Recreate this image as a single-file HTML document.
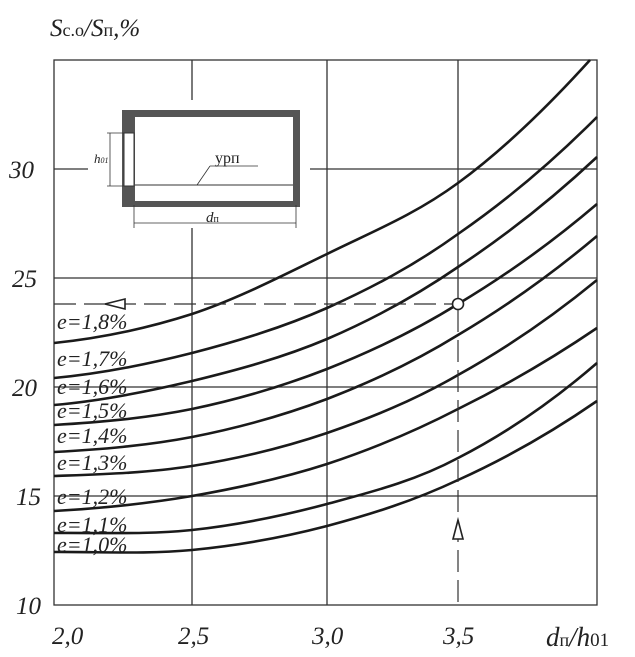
<!DOCTYPE html>
<html><head><meta charset="utf-8"><style>
html,body{margin:0;padding:0;background:#fff;}
svg{display:block;}
text{font-family:"Liberation Serif","DejaVu Serif",serif;font-style:italic;fill:#222;}
</style></head><body>
<svg width="635" height="657" viewBox="0 0 635 657" xmlns="http://www.w3.org/2000/svg">
<rect width="635" height="657" fill="#fff"/>
<g stroke="#333" stroke-width="1.3" fill="none">
<rect x="54" y="60" width="543" height="545"/>
<line x1="192" y1="60" x2="192" y2="605"/>
<line x1="327" y1="60" x2="327" y2="605"/>
<line x1="458" y1="60" x2="458" y2="304"/>
<line x1="54" y1="169" x2="597" y2="169"/>
<line x1="54" y1="278" x2="597" y2="278"/>
<line x1="54" y1="387" x2="597" y2="387"/>
<line x1="54" y1="496" x2="597" y2="496"/>
</g>
<rect x="88" y="100" width="222" height="128" fill="#fff"/>
<g>
<rect x="122" y="110" width="178" height="97" fill="#555"/>
<rect x="135" y="117" width="158" height="84" fill="#fff"/>
<rect x="124" y="133" width="10" height="53" fill="#fff" stroke="#333" stroke-width="1"/>
<line x1="135" y1="185" x2="293" y2="185" stroke="#333" stroke-width="1"/>
<line x1="107" y1="133" x2="124" y2="133" stroke="#333" stroke-width="0.8"/>
<line x1="107" y1="186" x2="124" y2="186" stroke="#333" stroke-width="0.8"/>
<line x1="110" y1="133" x2="110" y2="186" stroke="#333" stroke-width="0.8"/>
<line x1="134" y1="205" x2="134" y2="228" stroke="#333" stroke-width="0.8"/>
<line x1="296" y1="205" x2="296" y2="228" stroke="#333" stroke-width="0.8"/>
<line x1="134" y1="223" x2="296" y2="223" stroke="#333" stroke-width="0.8"/>
<line x1="197" y1="185" x2="210" y2="166" stroke="#333" stroke-width="0.8"/>
<line x1="210" y1="166" x2="258" y2="166" stroke="#333" stroke-width="0.8"/>
<text x="215" y="163" font-size="16" style="font-style:normal">урп</text>
<text x="94" y="163" font-size="13">h<tspan font-size="8">01</tspan></text>
<text x="206" y="222" font-size="15">d<tspan font-size="10" style="font-style:normal">п</tspan></text>
</g>
<g stroke="#1a1a1a" stroke-width="2.6" fill="none">
<path d="M54,343 C100,338.2 146,328.8 192,314 C237,299.2 282,275.8 327,254 C371,232.2 414,215.3 458,183 C502,150.7 545,109.7 590,60"/>
<path d="M54,378 C100,373.8 146,364.7 192,353 C237,341.3 282,327.8 327,308 C371,288.2 414,265.8 458,234 C504,202.2 551,163.2 597,117"/>
<path d="M54,405 C100,401 146,392 192,381 C237,370 282,358 327,339 C371,320 414,297.3 458,267 C504,236.7 551,200 597,157"/>
<path d="M54,425 C100,422.3 146,418.3 192,409 C237,399.7 282,386.5 327,369 C371,351.5 414,331.5 458,304 C504,276.5 551,243.2 597,204"/>
<path d="M54,452 C100,449.5 146,445.8 192,437 C237,428.2 282,416 327,399 C371,382 414,362.2 458,335 C504,307.8 551,274.8 597,236"/>
<path d="M54,476 C100,474.3 146,473.2 192,466 C237,458.8 282,448.2 327,433 C371,417.8 414,400.5 458,375 C504,349.5 551,317.8 597,280"/>
<path d="M54,511 C100,508.5 146,503.8 192,496 C237,488.2 282,478.5 327,464 C371,449.5 414,431.7 458,409 C504,386.3 551,359.3 597,328"/>
<path d="M54,533 C100,532.5 146,534.8 192,530 C237,525.2 282,516 327,504 C371,492 414,481.5 458,458 C504,434.5 551,402.8 597,363"/>
<path d="M54,552 C100,551.7 146,554.3 192,550 C237,545.7 282,537.7 327,526 C371,514.3 414,500.8 458,480 C504,459.2 551,432.8 597,401"/>
</g>
<g stroke="#333" stroke-width="1.2" stroke-dasharray="22,8" fill="none">
<line x1="54" y1="304" x2="452" y2="304"/>
<line x1="458" y1="310" x2="458" y2="605"/>
</g>
<circle cx="458" cy="304" r="5.5" fill="#fff" stroke="#222" stroke-width="1.6"/>
<polygon points="105,304 125,299 125,309" fill="#fff" stroke="#222" stroke-width="1.6"/>
<polygon points="458,520 453,539 463,539" fill="#fff" stroke="#222" stroke-width="1.6"/>
<g font-size="22">
<text x="57" y="329">e=1,8%</text>
<text x="57" y="366">e=1,7%</text>
<text x="57" y="394">e=1,6%</text>
<text x="57" y="418">e=1,5%</text>
<text x="57" y="443">e=1,4%</text>
<text x="57" y="470">e=1,3%</text>
<text x="57" y="504">e=1,2%</text>
<text x="57" y="532">e=1,1%</text>
<text x="57" y="552">e=1,0%</text>
</g>
<g font-size="25">
<text x="9" y="178">30</text>
<text x="12" y="287">25</text>
<text x="12" y="396">20</text>
<text x="16" y="505">15</text>
<text x="16" y="614">10</text>
<text x="52" y="644">2,0</text>
<text x="178" y="644">2,5</text>
<text x="312" y="644">3,0</text>
<text x="443" y="644">3,5</text>
</g>
<text x="50" y="36" font-size="25">S<tspan font-size="18" style="font-style:normal">c.o</tspan>/S<tspan font-size="18" style="font-style:normal">п</tspan>,%</text>
<text x="546" y="646" font-size="27">d<tspan font-size="18" style="font-style:normal">п</tspan>/h<tspan font-size="19" style="font-style:normal">01</tspan></text>
</svg>
</body></html>
